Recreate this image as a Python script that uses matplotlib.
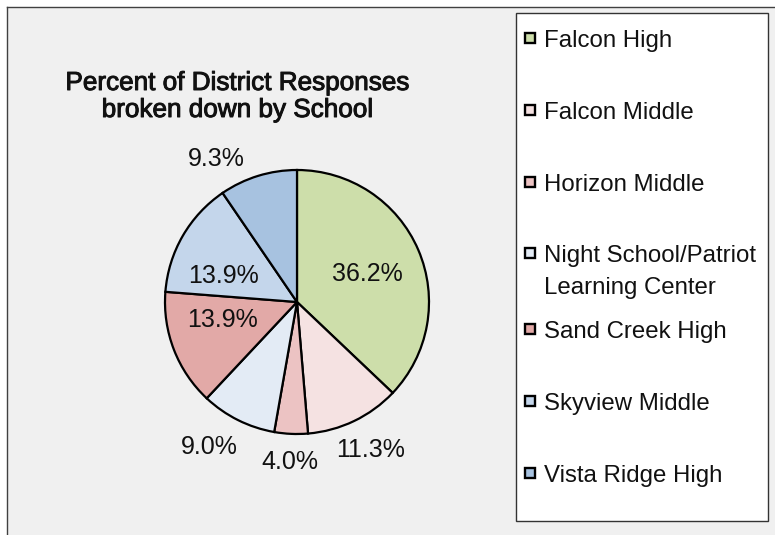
import matplotlib
matplotlib.use("Agg")
import matplotlib.pyplot as plt
import matplotlib.patheffects as pe
from matplotlib.patches import Rectangle
from matplotlib.lines import Line2D
import numpy as np

plt.rcParams["font.family"] = ["Liberation Sans", "DejaVu Sans"]

schools = ["Falcon High", "Falcon Middle", "Horizon Middle",
           "Night School/Patriot\nLearning Center", "Sand Creek High",
           "Skyview Middle", "Vista Ridge High"]
pct = [36.2, 11.3, 4.0, 9.0, 13.9, 13.9, 9.3]
colors = ["#cddeaa", "#f5e2e2", "#ecc3c3", "#e3ebf5",
          "#e2a9a7", "#c4d6eb", "#a7c2e0"]
title_lines = ["Percent of District Responses", "broken down by School"]

# label placement: radius (in pie radii) and angle nudge (deg) per slice
lab_r = [0.58, 1.24, 1.20, 1.27, 0.58, 0.60, 1.26]
lab_da = [0, 1, 0, -5, -9, 9, 12]

W, H = 775, 535
fig = plt.figure(figsize=(W / 100, H / 100), dpi=100, facecolor="white")

# chart area background and border (top/left edges visible)
fig.patches.append(Rectangle((7 / W, 0), 1, 1 - 7 / H, transform=fig.transFigure,
                             facecolor="#f0f0f0", edgecolor="none", zorder=0))
fig.lines.append(Line2D([7 / W, 1], [1 - 7 / H, 1 - 7 / H], transform=fig.transFigure,
                        color="#404040", lw=1.0))
fig.lines.append(Line2D([7 / W, 7 / W], [0, 1 - 7 / H], transform=fig.transFigure,
                        color="#404040", lw=1.0))

# pie
cx, cy, r = 297, 302, 132
ax = fig.add_axes([(cx - r) / W, 1 - (cy + r) / H, 2 * r / W, 2 * r / H])
ax.set_zorder(3)
ax.set_facecolor("none")
wedges, _ = ax.pie(pct, colors=colors, startangle=90, counterclock=False,
                   wedgeprops=dict(edgecolor="black", linewidth=1.6))
ax.set_xlim(-1, 1)
ax.set_ylim(-1, 1)
ax.set_aspect("equal")
ax.axis("off")

for w, v, rr, da in zip(wedges, pct, lab_r, lab_da):
    ang = np.deg2rad((w.theta1 + w.theta2) / 2 + da)
    ax.text(rr * np.cos(ang), rr * np.sin(ang) - 0.015, f"{v:.1f}%",
            ha="center", va="center", fontsize=18, color="#111111")

# title, one text per line; slightly heavier than regular
heavy = [pe.withStroke(linewidth=0.7, foreground="#111111")]
for line, yb in zip(title_lines, [90, 117]):
    fig.text(237.5 / W, 1 - yb / H, line, ha="center", va="baseline",
             fontsize=18.8, color="#111111", path_effects=heavy)

# legend
lx0, ly0, lx1, ly1 = 515.5, 12.5, 768, 520.5
fig.patches.append(Rectangle((lx0 / W, 1 - ly1 / H), (lx1 - lx0) / W, (ly1 - ly0) / H,
                             transform=fig.transFigure, facecolor="white",
                             edgecolor="#333333", lw=1.0, zorder=1))
ys = [38, 110, 182, 253, 329, 401, 473]
for name, c, y in zip(schools, colors, ys):
    fig.patches.append(Rectangle((524.5 / W, 1 - (y + 4.5) / H), 10.5 / W, 10 / H,
                                 transform=fig.transFigure, facecolor=c,
                                 edgecolor="black", lw=1.7, zorder=2))
    for i, part in enumerate(name.split("\n")):
        fig.text(544 / W, 1 - (y + 9 + 32 * i) / H, part, ha="left", va="baseline",
                 fontsize=17.3, color="#111111", zorder=3)

fig.savefig("out.png", dpi=100, facecolor=fig.get_facecolor())
